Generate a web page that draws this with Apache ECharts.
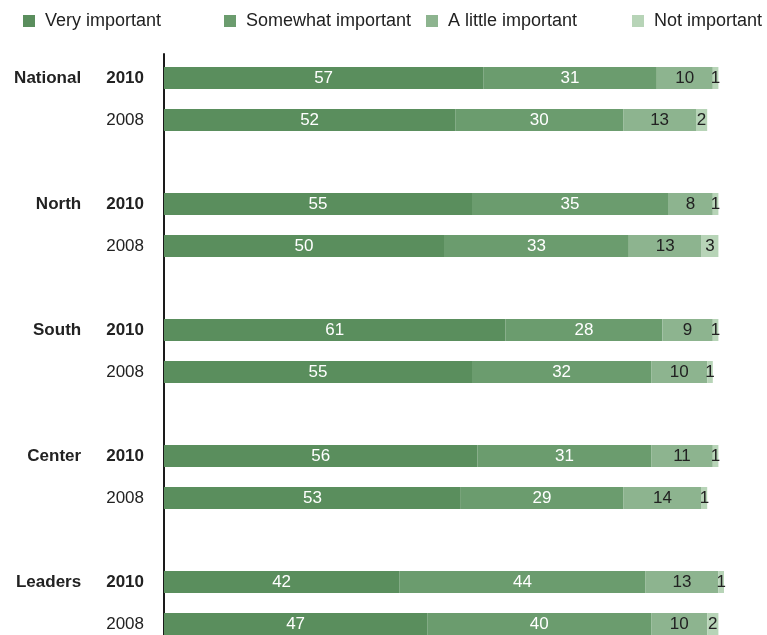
<!DOCTYPE html>
<html>
<head>
<meta charset="utf-8">
<title>Importance by region, 2008 vs 2010</title>
<script src="https://cdn.jsdelivr.net/npm/echarts@6/dist/echarts.min.js"></script>
<style>
  html, body { margin: 0; padding: 0; background: #ffffff; }
  #chart { width: 767px; height: 635px; }
</style>
</head>
<body>
<div id="chart"></div>
<script>
// Groups and survey years (each group shows 2010 above 2008)
const groups = ['National', 'North', 'South', 'Center', 'Leaders'];
const years = ['2010', '2008'];

// Percentages per row, ordered National 2010, National 2008, North 2010, ...
const veryImportant     = [57, 52, 55, 50, 61, 55, 56, 53, 42, 47];
const somewhatImportant = [31, 30, 35, 33, 28, 32, 31, 29, 44, 40];
const littleImportant   = [10, 13,  8, 13,  9, 10, 11, 14, 13, 10];
const notImportant      = [ 1,  2,  1,  3,  1,  1,  1,  1,  1,  2];

const seriesNames = ['Very important', 'Somewhat important', 'A little important', 'Not important'];
const seriesValues = [veryImportant, somewhatImportant, littleImportant, notImportant];
const colors = ['#5a8e5d', '#6b9c6e', '#8db48f', '#b7d4b7'];
const labelColors = ['#ffffff', '#ffffff', '#222222', '#222222'];

// Category rows: two years per group, with an empty spacer row between groups
const categories = [];
const rowIndex = [];
groups.forEach((g, gi) => {
  years.forEach((y, yi) => {
    categories.push(g + '|' + y);
    rowIndex.push(gi * 2 + yi);
  });
  if (gi < groups.length - 1) {
    categories.push('gap' + gi);
    rowIndex.push(-1);
  }
});

const font = "'Liberation Sans', Arial, sans-serif";
const ROW = 42;                 // pixel pitch between rows
const PLOT_LEFT = 164;
const FIRST_ROW_Y = 78;

const series = seriesNames.map((name, si) => ({
  name: name,
  type: 'bar',
  stack: 'total',
  barWidth: 22,
  clip: false,
  xAxisIndex: 0,
  yAxisIndex: 0,
  itemStyle: { color: colors[si] },
  label: {
    show: true,
    position: 'inside',
    fontFamily: font,
    fontSize: 17,
    color: labelColors[si],
    formatter: p => (p.value === '-' ? '' : String(p.value))
  },
  emphasis: { disabled: true },
  data: rowIndex.map(r => (r < 0 ? '-' : seriesValues[si][r]))
}));

const legendLefts = [23, 224, 426, 632];
const legends = seriesNames.map((name, i) => ({
  data: [name],
  left: legendLefts[i],
  top: 12,
  padding: 0,
  itemWidth: 12,
  itemHeight: 12,
  icon: 'rect',
  selectedMode: false,
  textStyle: { fontFamily: font, fontSize: 18, color: '#222222', padding: [0, 0, 0, 5] }
}));

const chart = echarts.init(document.getElementById('chart'), null, { renderer: 'canvas' });
chart.setOption({
  animation: false,
  backgroundColor: '#ffffff',
  color: colors,
  legend: legends,
  grid: [
    // plot area: rows are placed on ticks from the first to the last row
    { left: PLOT_LEFT, top: FIRST_ROW_Y, width: 560, height: ROW * (categories.length - 1), containLabel: false },
    // frame carrying the vertical axis rule
    { left: PLOT_LEFT, top: 54, width: 560, bottom: 0, containLabel: false }
  ],
  xAxis: [
    { type: 'value', gridIndex: 0, min: 0, max: 100, show: false },
    { type: 'value', gridIndex: 1, min: 0, max: 100, show: false }
  ],
  yAxis: [
    {
      type: 'category',
      gridIndex: 0,
      inverse: true,
      boundaryGap: false,
      data: categories,
      axisTick: { show: false },
      axisLine: { show: false },
      splitLine: { show: false },
      axisLabel: {
        margin: 20,
        fontFamily: font,
        fontSize: 17,
        color: '#222222',
        interval: 0,
        formatter: v => {
          if (v.indexOf('|') < 0) return '';
          const [g, y] = v.split('|');
          if (y === '2010') return '{g|' + g + '}{yb|' + y + '}';
          return '{yr|' + y + '}';
        },
        rich: {
          g:  { fontFamily: font, fontSize: 17, fontWeight: 'bold', color: '#222222', padding: [0, 25, 0, 0] },
          yb: { fontFamily: font, fontSize: 17, fontWeight: 'bold', color: '#222222' },
          yr: { fontFamily: font, fontSize: 17, color: '#222222' }
        }
      }
    },
    {
      type: 'value',
      gridIndex: 1,
      min: 0,
      max: 1,
      axisLine: { show: true, onZero: false, lineStyle: { color: '#1a1a1a', width: 2 } },
      axisTick: { show: false },
      axisLabel: { show: false },
      splitLine: { show: false }
    }
  ],
  series: series
});
</script>
</body>
</html>
